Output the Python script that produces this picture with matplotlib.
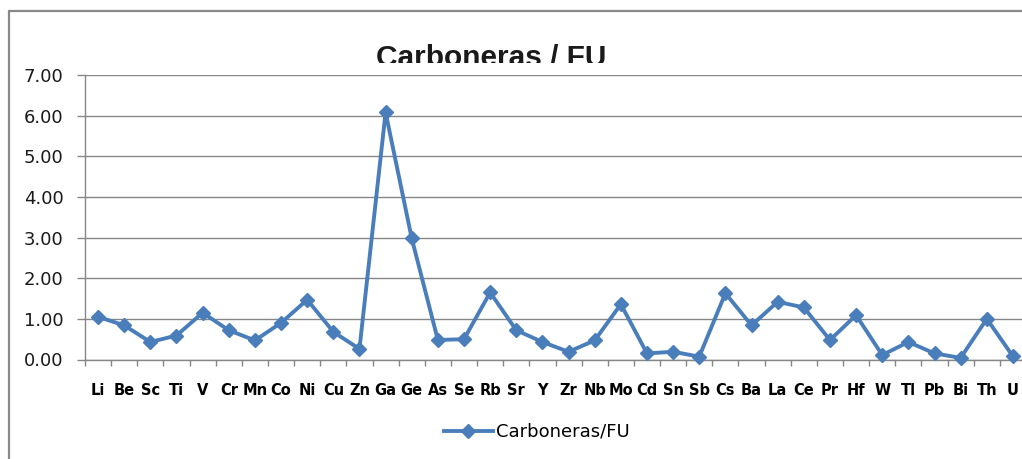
import matplotlib
matplotlib.use("Agg")
from matplotlib import pyplot as plt
from matplotlib.patches import Rectangle
from matplotlib.transforms import Bbox, TransformedBbox
import numpy as np

elements = ["Li", "Be", "Sc", "Ti", "V", "Cr", "Mn", "Co", "Ni", "Cu", "Zn", "Ga",
            "Ge", "As", "Se", "Rb", "Sr", "Y", "Zr", "Nb", "Mo", "Cd", "Sn", "Sb",
            "Cs", "Ba", "La", "Ce", "Pr", "Hf", "W", "Tl", "Pb", "Bi", "Th", "U"]
ratio = [1.05, 0.84, 0.43, 0.59, 1.15, 0.72, 0.47, 0.90, 1.47, 0.68, 0.26, 6.08,
         2.98, 0.48, 0.50, 1.65, 0.72, 0.43, 0.19, 0.47, 1.36, 0.15, 0.19, 0.07,
         1.63, 0.84, 1.42, 1.28, 0.48, 1.09, 0.11, 0.43, 0.15, 0.04, 1.00, 0.08]
yticks = [0, 1, 2, 3, 4, 5, 6, 7]

W, H = 1022, 459
fig = plt.figure(figsize=(W / 100, H / 100), dpi=100)
ax = fig.add_axes([85 / W, 1 - 359.5 / H, (1026 - 85) / W, (359.5 - 75) / H])

blue = "#4A7EBB"
grey = "#868686"
x = np.arange(len(elements))
ax.plot(x, ratio, color=blue, lw=2.8, marker="D", ms=7.2, mfc=blue, mec=blue,
        label="Carboneras/FU", clip_on=False, zorder=3)

ax.set_xlim(-0.5, len(elements) - 0.5)
ax.set_ylim(0, 7)
ax.set_yticks(yticks)
ax.set_yticklabels(["%.2f" % v for v in yticks], fontsize=13, family="DejaVu Sans",
                   color="#1a1a1a")
ax.yaxis.grid(True, color=grey, lw=1)
ax.set_axisbelow(True)

ax.set_xticks(x)
ax.set_xticklabels(elements, fontsize=10.5, fontweight="bold", family="DejaVu Sans")
ax.set_xticks(np.arange(len(elements) + 1) - 0.5, minor=True)
ax.tick_params(axis="x", which="major", length=0, pad=17)
ax.tick_params(axis="x", which="minor", length=4.5, color=grey, width=1)
ax.tick_params(axis="y", length=5.5, color=grey, width=1, pad=10)

for s in ["top", "right"]:
    ax.spines[s].set_visible(False)
for s in ["left", "bottom"]:
    ax.spines[s].set_color(grey)
    ax.spines[s].set_linewidth(1)

# outer chart frame (cut off at right and bottom)
fig.patches.append(Rectangle((9 / W, -0.2), 1.2, 1 - 11 / H + 0.2,
                             transform=fig.transFigure, fill=False,
                             edgecolor="#898989", lw=1.6))

# title, clipped at its bottom like the original
t = fig.text(491 / W, 1 - 66 / H, "Carboneras / FU", ha="center", va="baseline",
             fontsize=21.5, fontweight="bold", family="Liberation Sans",
             color="#1a1a1a")
t.set_clip_box(TransformedBbox(Bbox([[0, 1 - 62.5 / H], [1, 1]]), fig.transFigure))
t.set_clip_on(True)

fig.legend(loc="center", bbox_to_anchor=(537 / W, 1 - 432 / H), frameon=False,
           fontsize=13, handlelength=2.7, handletextpad=0.2)

fig.savefig("out.png", dpi=100)
